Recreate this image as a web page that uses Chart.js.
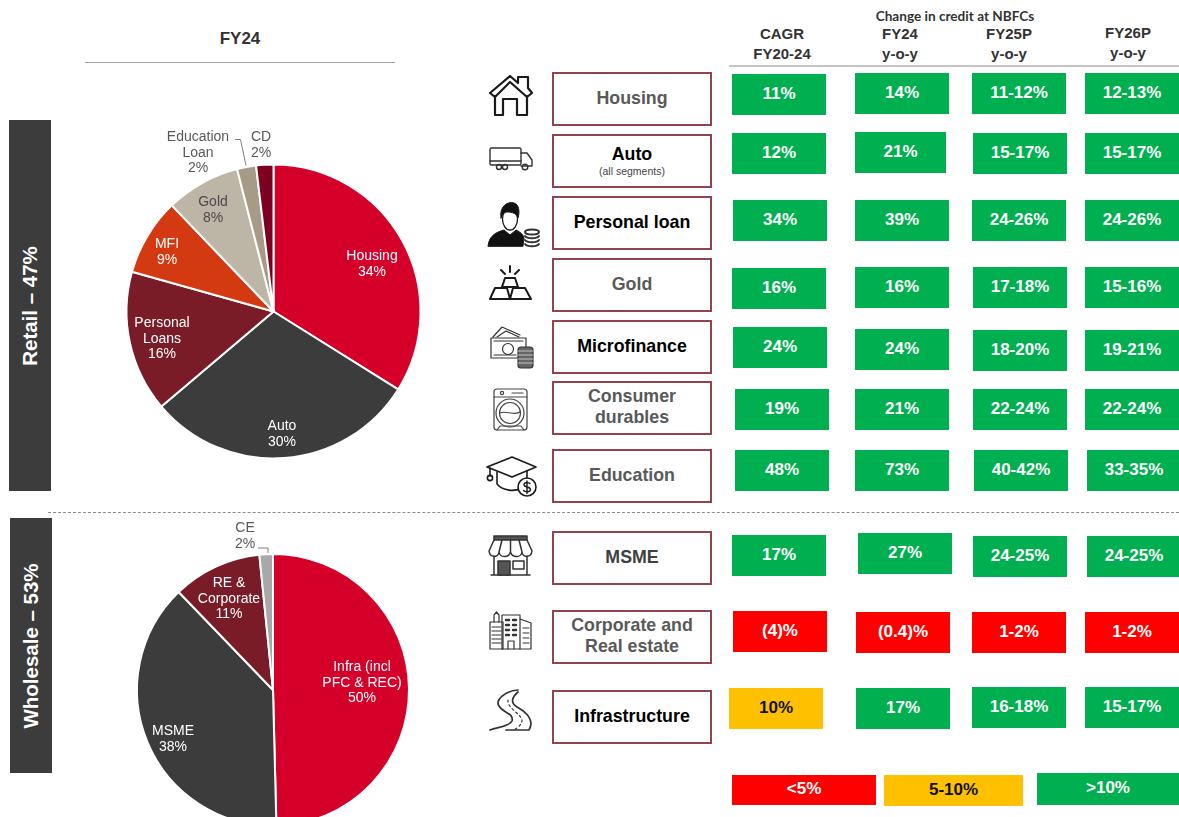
<!DOCTYPE html>
<html>
<head>
<meta charset="utf-8">
<script src="https://cdn.jsdelivr.net/npm/chart.js@4"></script>
<style>
html,body{margin:0;padding:0;background:#fff;width:1179px;height:817px;overflow:hidden;font-family:"Liberation Sans",Arial,sans-serif}
.abs{position:absolute}
canvas{position:absolute}
.bar{position:absolute;background:#3c3c3c}
.bar span{position:absolute;left:50%;top:50%;transform:translate(-50%,-50%) rotate(-90deg);white-space:nowrap;color:#fff;font-weight:bold;font-size:20.5px}
.box{position:absolute;left:552px;width:156px;height:48px;padding-bottom:2px;border:2px solid #96424d;display:flex;flex-direction:column;align-items:center;justify-content:center;font-weight:bold;font-size:17.8px;line-height:21px;text-align:center}
.box small{font-weight:normal;font-size:10.5px;line-height:12px;color:#444}
.cell{position:absolute;display:flex;align-items:center;justify-content:center;font-weight:bold;font-size:17px;padding-bottom:2px;box-sizing:border-box}
.hd{position:absolute;transform:translateX(-50%);text-align:center;font-weight:bold;font-size:15px;line-height:20px;color:#333;white-space:nowrap}
</style>
</head>
<body>
<script>
// ---------- data ----------
const retailCategories = ["Housing","Auto","Personal\nLoans","MFI","Gold","Education\nLoan","CD"];
const retailShares = [34, 30, 15.6, 8.5, 8.2, 2.1, 1.9];
const wholesaleCategories = ["Infra (incl\nPFC & REC)","MSME","RE &\nCorporate","CE"];
const wholesaleShares = [49.6, 38.2, 10.6, 1.6];
const segmentNames = ["Housing","Auto","Personal loan","Gold","Microfinance","Consumer\ndurables","Education","MSME","Corporate and\nReal estate","Infrastructure"];
const cagrFY2024 = ["11%","12%","34%","16%","24%","19%","48%","17%","(4)%","10%"];
const growthFY24 = ["14%","21%","39%","16%","24%","21%","73%","27%","(0.4)%","17%"];
const growthFY25P = ["11-12%","15-17%","24-26%","17-18%","18-20%","22-24%","40-42%","24-25%","1-2%","16-18%"];
const growthFY26P = ["12-13%","15-17%","24-26%","15-16%","19-21%","22-24%","33-35%","24-25%","1-2%","15-17%"];
const legendBands = ["<5%","5-10%",">10%"];

// ---------- styles and layout ----------
const retailColors = ["#d5002a","#3c3c3c","#7a1c28","#d43a12","#bdb5a6","#a79a86","#7d0020"];
const retailText = ["#fff","#fff","#fff","#fff","#4a4a4a","#595959","#595959"];
const retailLabelAt = [[98.5,-48.5],[8.5,121.5],[-111.5,26.5],[-106.5,-60.5],[-60.5,-102.5],[-75.5,-159.5],[-12.5,-167.5]];
const wholesaleColors = ["#d5002a","#3c3c3c","#7a1c28","#a8a8a8"];
const wholesaleText = ["#fff","#fff","#fff","#595959"];
const wholesaleLabelAt = [[89,-8],[-100,48],[-44,-92],[-28,-155]];
const GREEN="#00b050", RED="#ff0000", AMBER="#ffc000";

const boxTop = [72,134,196,258,320,381,449,531,610,690];
const boxInk = ["#595959","#000","#000","#595959","#000","#595959","#595959","#404040","#595959","#000"];
const columnLayout = [
  {vals:cagrFY2024, x:[732,732,733,732,733,735,735,732,733,729], y:[74,133,200,268,327,389,450,535,611,688]},
  {vals:growthFY24, x:[855,855,855,855,855,855,855,858,856,856], y:[73,132,200,267,329,389,450,533,612,688], w:{1:91}},
  {vals:growthFY25P,x:[972,973,972,973,973,973,974,973,972,972], y:[73,133,200,267,330,389,450,536,612,687]},
  {vals:growthFY26P,x:[1085,1085,1085,1085,1085,1085,1087,1087,1085,1085], y:[73,133,200,267,330,389,450,536,612,687]}
];

function cellColor(t){
  const nums = t.match(/\d+(\.\d+)?/g).map(Number);
  const top = nums[nums.length-1];
  if (t.startsWith("(") || top < 5) return RED;
  return top <= 10 ? AMBER : GREEN;
}
function el(tag,cls,css,html){
  const e=document.createElement(tag);
  if(cls)e.className=cls;
  Object.assign(e.style,css||{});
  if(html!=null)e.innerHTML=html;
  document.body.appendChild(e);
  return e;
}

// ---------- static page furniture ----------
el("div","abs",{left:"0",top:"29px",width:"480px",textAlign:"center",fontWeight:"bold",fontSize:"17px",color:"#333"},"FY24");
el("div","abs",{left:"85px",top:"62px",width:"310px",height:"1px",background:"#a6a6a6"});
el("div","bar",{left:"9px",top:"120px",width:"42px",height:"371px"},"<span>Retail – 47%</span>");
el("div","bar",{left:"10px",top:"518px",width:"42px",height:"255px"},"<span>Wholesale – 53%</span>");
el("div","abs",{left:"48px",top:"512px",width:"1131px",height:"0",borderTop:"1px dashed #8c8c8c"});
el("div","abs",{left:"729px",top:"65px",width:"450px",height:"2px",background:"#c4c4c4"});

el("div","abs",{left:"855px",top:"8px",width:"200px",textAlign:"center",fontFamily:"Lato",fontWeight:"bold",fontSize:"13.6px",color:"#333"},"Change in credit at NBFCs");
[["CAGR<br>FY20-24",782,24],["FY24<br>y-o-y",900,24],["FY25P<br>y-o-y",1009,24],["FY26P<br>y-o-y",1128,23]].forEach(h=>{
  el("div","hd",{left:h[1]+"px",top:h[2]+"px"},h[0]);
});

segmentNames.forEach((n,i)=>{
  let html=n.replace("\n","<br>");
  if(n==="Auto") html="Auto<small>(all segments)</small>";
  el("div","box",{top:boxTop[i]+"px",color:boxInk[i]},html);
});
columnLayout.forEach(c=>{
  c.vals.forEach((v,i)=>{
    const col=cellColor(v);
    const w=(c.w&&c.w[i])||94;
    el("div","cell",{left:c.x[i]+"px",top:c.y[i]+"px",width:w+"px",height:"41px",background:col,color:col===AMBER?"#111":"#fff"},v);
  });
});
[[732,775,144,30,RED,"#fff"],[884,775,139,31,AMBER,"#111"],[1037,773,142,32,GREEN,"#fff"]].forEach((b,i)=>{
  el("div","cell",{left:b[0]+"px",top:b[1]+"px",width:b[2]+"px",height:b[3]+"px",background:b[4],color:b[5]},legendBands[i]);
});

// ---------- icons ----------
const svgNS = `<svg xmlns="http://www.w3.org/2000/svg" class="abs" style="left:0;top:0;position:absolute" width="1179" height="817" fill="none" stroke="#1a1a1a" stroke-linejoin="round" stroke-linecap="round">
<g stroke-width="2.2"><path d="M495 97 L490 93 L510 76 L518 83 V77 H528 V88 L532 93 L527 97 L510 82 Z"/><path d="M495 96 V115 H503 V99 H517 V115 H527 V96"/></g>
<g stroke-width="1.4" stroke="#333"><rect x="490" y="148" width="31" height="17" rx="1.5"/><path d="M490 161 H521 M521 153 H527 L532 160 V166 H521"/><circle cx="499" cy="167" r="2.5"/><circle cx="505" cy="167" r="2.5"/><circle cx="525" cy="167" r="2.8"/></g>
<g><path d="M488 246 C489 235 497 232 504 230 L510 235 L516 230 C520 232 523 234 524 238 L523 246 Z" fill="#111"/><ellipse cx="510" cy="219" rx="7.5" ry="11" stroke-width="1.3"/><path d="M501 218 C499 206 508 201 514 203 C519 204 520 212 518 218 C516 212 510 212 506 212 C503 213 503 215 501 218 Z" fill="#111"/>
<g stroke-width="2" stroke="#333"><ellipse cx="532" cy="232" rx="7" ry="2.6"/><path d="M525 236 C527 239 537 239 539 236 M525 240 C527 243 537 243 539 240 M525 244 C527 247 537 247 539 244"/></g></g>
<g stroke-width="2"><path d="M510 266 V272 M501 270 L505 274 M519 270 L515 274"/><path d="M505 278 H515 L518 287 H502 Z M495 288 H507 L510 299 H490 Z M513 288 H525 L531 299 H510 Z"/></g>
<g stroke-width="1.2" stroke="#333"><path d="M493 337 L502 327 L520 335 M497 337 L506 331 L519 337"/><rect x="491" y="338" width="35" height="20"/><circle cx="508" cy="349" r="5.5"/><path d="M494 341 H523 M494 355 H516"/><rect x="518" y="347" width="15" height="21" rx="3" fill="#666"/><path d="M518 351 H533 M518 355 H533 M518 359 H533 M518 363 H533" stroke="#ddd" stroke-width="0.8"/></g>
<g stroke-width="1.2" stroke="#444"><rect x="494" y="389" width="33" height="41" rx="3"/><path d="M494 397 H527"/><circle cx="510" cy="413" r="14"/><circle cx="510" cy="413" r="10.5"/><path d="M500 413 C505 410 515 416 520 412"/><circle cx="502" cy="393" r="1.6"/><path d="M512 393 H523 M497 430 L500 426 H521 L524 430"/></g>
<g stroke-width="1.6"><path d="M512 457 L536 467 L512 477 L487 467 Z"/><path d="M497 472 V484 C503 491 515 492 521 488 M527 471 V478 M490 468 V476"/><circle cx="490" cy="478" r="2.6"/><circle cx="527" cy="487" r="9" fill="#fff"/><path d="M530 483.5 C528 482 523.5 482.5 524 485 C524.5 487.5 530.5 486.5 530.5 489.5 C530.5 492 526 492.5 523.5 490.5 M527 481 V493.5" stroke-width="1.4"/></g>
<g stroke-width="1.5" stroke="#333"><rect x="494" y="536" width="33" height="4" fill="#555"/><path d="M494 540 L489 551 C490 558 498 558 499 552 C500 558 509 558 510.5 552 C512 558 521 558 522 552 C523 558 531 558 532 551 L527 540 M499 552 L502 540 M510.500 552 V540 M522 552 L519 540"/><path d="M494 556 V575 H527 V556 M491 575 H530"/><rect x="498" y="561" width="12" height="14" fill="#555"/><rect x="513" y="561" width="11" height="8"/></g>
<g stroke-width="1.2" stroke="#333"><rect x="490" y="622" width="13" height="27"/><path d="M494 622 V615 L496.500 612 L499 615 V622 M492 627 H501 M492 631 H501 M492 635 H501 M492 639 H501 M492 643 H501"/><rect x="502" y="615" width="18" height="34"/><path d="M506 620 H509 M513 620 H516 M506 625 H509 M513 625 H516 M506 630 H509 M513 630 H516 M506 635 H509 M513 635 H516" stroke-width="2.400"/><path d="M508 649 V641 H514 V649"/><path d="M520 619 L531 623 V649 H520 M523 628 H529 M523 633 H529 M523 638 H529 M523 643 H529" /></g>
<g stroke-width="1.7" stroke="#333"><path d="M518 690 C505 691 495 700 499 706 C503 713 514 713 512 721 C510 726 498 727 490 730"/><path d="M518 692 C512 697 510 703 517 707 C526 712 535 720 529 730 H506"/><path d="M508 700 C507 708 520 713 522 720 C522 725 517 728 514 730" stroke-dasharray="2 3" stroke-width="1.200"/></g>
</svg>`;
document.body.insertAdjacentHTML("beforeend", svgNS);

// ---------- pies ----------
const sliceLabels = {
  id:"sliceLabels",
  afterDatasetsDraw(chart,args,o){
    const ctx=chart.ctx, arc=chart.getDatasetMeta(0).data[0];
    const cx=arc.x, cy=arc.y;
    ctx.save();
    if(o.leader){
      ctx.strokeStyle="#7f7f7f"; ctx.lineWidth=1;
      ctx.beginPath();
      o.leader.forEach((p,i)=>{ i?ctx.lineTo(cx+p[0],cy+p[1]):ctx.moveTo(cx+p[0],cy+p[1]); });
      ctx.stroke();
    }
    ctx.font='14px "Liberation Sans"';
    ctx.textAlign="center"; ctx.textBaseline="middle";
    const vals=chart.data.datasets[0].data;
    chart.data.labels.forEach((lab,i)=>{
      const lines=lab.split("\n").concat(Math.round(vals[i])+"%");
      const lh=15.5, y0=cy+o.at[i][1]+1-(lines.length-1)*lh/2;
      ctx.fillStyle=o.ink[i];
      lines.forEach((t,k)=>ctx.fillText(t,cx+o.at[i][0],y0+k*lh));
    });
    ctx.restore();
  }
};
function makePie(left,top,w,h,labels,data,colors,radius,at,ink,leader){
  const c=el("canvas",null,{left:left+"px",top:top+"px"});
  c.width=w;c.height=h;
  new Chart(c,{type:"pie",
    data:{labels:labels,datasets:[{data:data,backgroundColor:colors,borderColor:"#fff",borderWidth:2,radius:radius}]},
    options:{responsive:false,animation:false,events:[],layout:{padding:0},
      plugins:{legend:{display:false},tooltip:{enabled:false},sliceLabels:{at:at,ink:ink,leader:leader}}},
    plugins:[sliceLabels]});
}
makePie(84,122,379,379,retailCategories,retailShares,retailColors,147,retailLabelAt,retailText,[[-38.5,-172],[-33,-172],[-27.5,-146]]);
makePie(83,500,380,380,wholesaleCategories,wholesaleShares,wholesaleColors,136,wholesaleLabelAt,wholesaleText,[[-15,-142],[-5,-142],[-5,-137]]);
</script>
</body>
</html>
